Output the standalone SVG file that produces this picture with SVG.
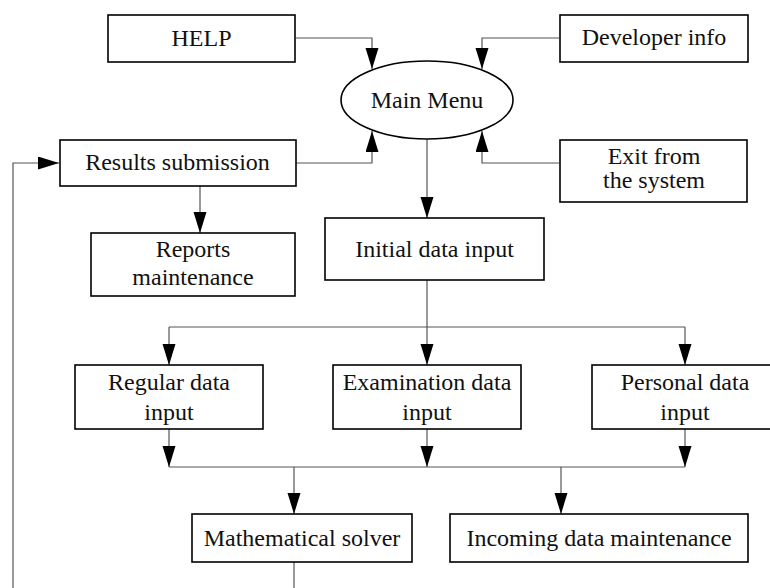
<svg xmlns="http://www.w3.org/2000/svg" width="770" height="588" viewBox="0 0 770 588">
<style>
.box{fill:#fff;stroke:#000;stroke-width:1.6}
.t{font-family:'Liberation Serif','DejaVu Serif',serif;font-size:24px;fill:#111;text-anchor:middle}
.c{fill:none;stroke:#555;stroke-width:1.2}
.a{marker-end:url(#ah)}
</style>
<defs>
<marker id="ah" markerUnits="userSpaceOnUse" markerWidth="22" markerHeight="14" refX="21" refY="6.5" orient="auto">
<path d="M0,0 L21,6.5 L0,13 z" fill="#000"/>
</marker>
</defs>
<rect width="770" height="588" fill="#fff"/>
<g id="connectors">
<path class="c a" d="M296,38 H372 V69"/>
<path class="c a" d="M559,38 H482 V69"/>
<path class="c a" d="M296,163 H372 V131"/>
<path class="c a" d="M559,163 H482 V131"/>
<path class="c a" d="M427,139 V218"/>
<path class="c a" d="M200,186 V233"/>
<path class="c a" d="M13,588 V163 H59"/>
<path class="c a" d="M427,280 V365"/>
<path class="c" d="M169,327 H685"/>
<path class="c a" d="M169,327 V365"/>
<path class="c a" d="M685,327 V365"/>
<path class="c a" d="M169,429 V467"/>
<path class="c a" d="M427,429 V467"/>
<path class="c a" d="M685,429 V467"/>
<path class="c" d="M169,467 H685"/>
<path class="c a" d="M294,467 V514"/>
<path class="c a" d="M561,467 V514"/>
<path class="c" d="M294,562 V588"/>
</g>
<g id="help"><rect class="box" x="108" y="15" width="187" height="47"/><text class="t" font-family="Liberation Serif" x="201.5" y="46">HELP</text></g>
<g id="developer"><rect class="box" x="560" y="15" width="188" height="47"/><text class="t" font-family="Liberation Serif" x="654" y="45">Developer info</text></g>
<g id="mainmenu"><ellipse class="box" cx="427" cy="100" rx="86" ry="39"/><text class="t" font-family="Liberation Serif" x="427" y="108">Main Menu</text></g>
<g id="results"><rect class="box" x="60" y="140" width="236" height="46"/><text class="t" font-family="Liberation Serif" x="177.5" y="170">Results submission</text></g>
<g id="exit"><rect class="box" x="560" y="140" width="187" height="62"/><text class="t" font-family="Liberation Serif" x="654" y="164">Exit from</text><text class="t" font-family="Liberation Serif" x="654" y="188">the system</text></g>
<g id="reports"><rect class="box" x="91" y="233" width="204" height="63"/><text class="t" font-family="Liberation Serif" x="193" y="257">Reports</text><text class="t" font-family="Liberation Serif" x="193" y="285">maintenance</text></g>
<g id="initial"><rect class="box" x="325" y="218" width="219" height="62"/><text class="t" font-family="Liberation Serif" x="434.5" y="257">Initial data input</text></g>
<g id="regular"><rect class="box" x="75" y="365" width="188" height="64"/><text class="t" font-family="Liberation Serif" x="169" y="390">Regular data</text><text class="t" font-family="Liberation Serif" x="169" y="420">input</text></g>
<g id="examination"><rect class="box" x="333" y="365" width="188" height="64"/><text class="t" font-family="Liberation Serif" x="427" y="390">Examination data</text><text class="t" font-family="Liberation Serif" x="427" y="420">input</text></g>
<g id="personal"><rect class="box" x="592" y="365" width="188" height="64"/><text class="t" font-family="Liberation Serif" x="685" y="390">Personal data</text><text class="t" font-family="Liberation Serif" x="685" y="420">input</text></g>
<g id="solver"><rect class="box" x="192" y="514" width="220" height="48"/><text class="t" font-family="Liberation Serif" x="302" y="546">Mathematical solver</text></g>
<g id="incoming"><rect class="box" x="450" y="514" width="298" height="48"/><text class="t" font-family="Liberation Serif" x="599" y="546">Incoming data maintenance</text></g>
</svg>
